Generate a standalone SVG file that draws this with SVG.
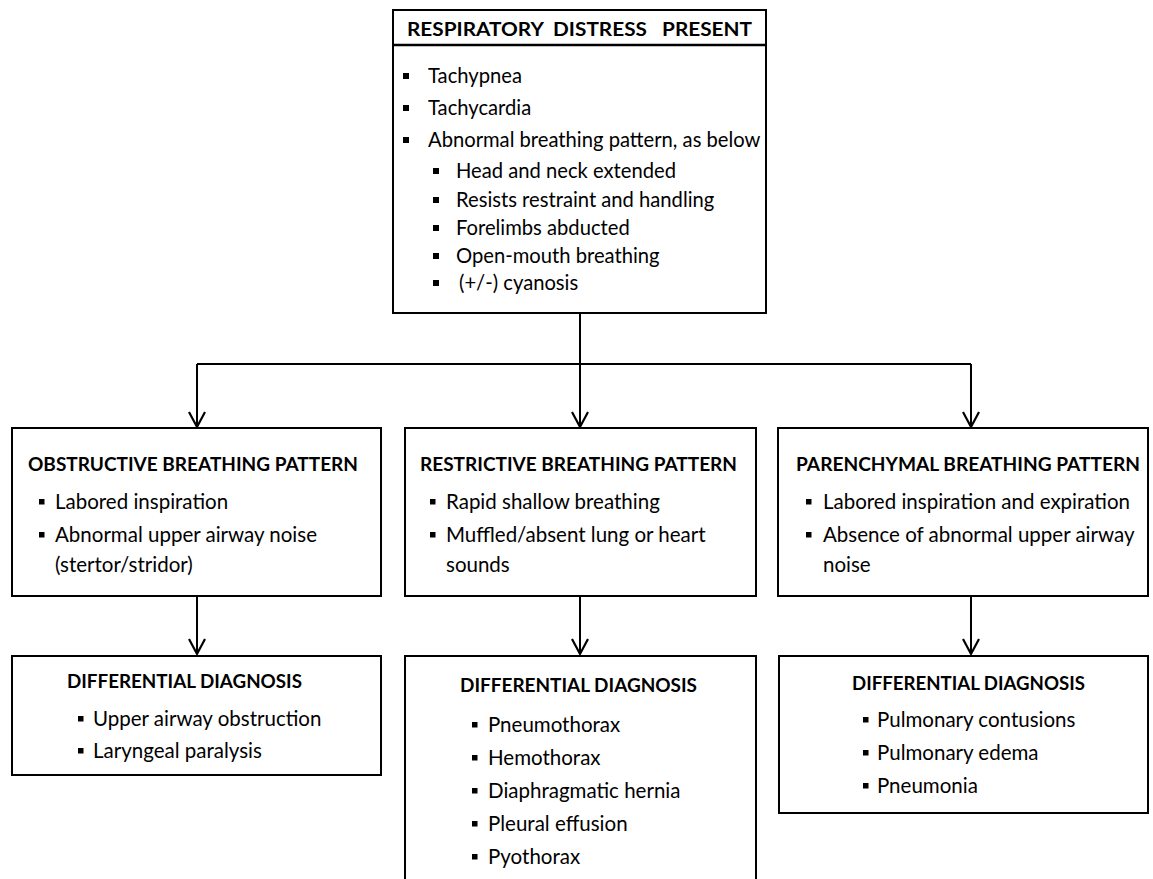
<svg xmlns="http://www.w3.org/2000/svg" width="1153" height="879" viewBox="0 0 1153 879">
  <style>
    .box { fill: #ffffff; stroke: #000000; stroke-width: 2; }
    .rule { stroke: #000000; stroke-width: 2.5; }
    .title { font-family: Lato, "Liberation Sans", sans-serif; font-weight: bold; font-size: 19.2px; fill: #000000; white-space: pre; }
    .item { font-family: Lato, "Liberation Sans", sans-serif; font-size: 20.5px; fill: #000000; }
    .top-item { font-size: 20.2px; }
    .bul { fill: #000000; }
    .link { fill: none; stroke: #000000; stroke-width: 2; }
  </style>
  <defs>
    <marker id="chevron" markerUnits="userSpaceOnUse" orient="auto" refX="0" refY="0" markerWidth="20" markerHeight="20" overflow="visible">
      <path d="M-15,-8 L0,0 L-15,8" fill="none" stroke="#000000" stroke-width="2.2"/>
    </marker>
  </defs>
  <rect width="1153" height="879" fill="#ffffff"/>

  <!-- connectors -->
  <g id="connectors">
    <path class="link" d="M580,313 V364"/>
    <path class="link" d="M197,364 H971"/>
    <path class="link" d="M197,364 V427" marker-end="url(#chevron)"/>
    <path class="link" d="M580,364 V427" marker-end="url(#chevron)"/>
    <path class="link" d="M971,364 V427" marker-end="url(#chevron)"/>
    <path class="link" d="M197,596 V654" marker-end="url(#chevron)"/>
    <path class="link" d="M580,596 V654" marker-end="url(#chevron)"/>
    <path class="link" d="M971,596 V654" marker-end="url(#chevron)"/>
  </g>

  <!-- top: respiratory distress -->
  <g id="node-distress">
    <rect class="box" x="393" y="10" width="373" height="303"/>
    <line class="rule" x1="393" y1="45" x2="766" y2="45"/>
    <text class="title" x="407" y="36" textLength="345" lengthAdjust="spacingAndGlyphs">RESPIRATORY  DISTRESS   PRESENT</text>
    <rect class="bul" x="403" y="73" width="6" height="6"/>
    <text class="item top-item" x="428" y="83">Tachypnea</text>
    <rect class="bul" x="403" y="105" width="6" height="6"/>
    <text class="item top-item" x="428" y="115">Tachycardia</text>
    <rect class="bul" x="403" y="137" width="6" height="6"/>
    <text class="item top-item" x="428" y="147">Abnormal breathing pattern, as below</text>
    <rect class="bul" x="433" y="168" width="6" height="6"/>
    <text class="item top-item" x="456" y="178">Head and neck extended</text>
    <rect class="bul" x="433" y="197" width="6" height="6"/>
    <text class="item top-item" x="456" y="207">Resists restraint and handling</text>
    <rect class="bul" x="433" y="225" width="6" height="6"/>
    <text class="item top-item" x="456" y="235">Forelimbs abducted</text>
    <rect class="bul" x="433" y="253" width="6" height="6"/>
    <text class="item top-item" x="456" y="263">Open-mouth breathing</text>
    <rect class="bul" x="433" y="280" width="6" height="6"/>
    <text class="item top-item" x="459" y="290">(+/-) cyanosis</text>
  </g>

  <!-- breathing patterns -->
  <g id="node-obstructive">
    <rect class="box" x="12" y="428" width="369" height="168"/>
    <text class="title" x="28" y="471" textLength="330" lengthAdjust="spacingAndGlyphs">OBSTRUCTIVE BREATHING PATTERN</text>
    <rect class="bul" x="39" y="499" width="5.5" height="5.5"/>
    <text class="item" x="55" y="509">Labored inspiration</text>
    <rect class="bul" x="39" y="532" width="5.5" height="5.5"/>
    <text class="item" x="55" y="542">Abnormal upper airway noise</text>
    <text class="item" x="55" y="572">(stertor/stridor)</text>
  </g>

  <g id="node-restrictive">
    <rect class="box" x="405" y="428" width="351" height="168"/>
    <text class="title" x="420" y="471" textLength="317" lengthAdjust="spacingAndGlyphs">RESTRICTIVE BREATHING PATTERN</text>
    <rect class="bul" x="430" y="499" width="5.5" height="5.5"/>
    <text class="item" x="446" y="509">Rapid shallow breathing</text>
    <rect class="bul" x="430" y="532" width="5.5" height="5.5"/>
    <text class="item" x="446" y="542">Muffled/absent lung or heart</text>
    <text class="item" x="446" y="572">sounds</text>
  </g>

  <g id="node-parenchymal">
    <rect class="box" x="778" y="428" width="370" height="168"/>
    <text class="title" x="796" y="471" textLength="344" lengthAdjust="spacingAndGlyphs">PARENCHYMAL BREATHING PATTERN</text>
    <rect class="bul" x="806" y="499" width="5.5" height="5.5"/>
    <text class="item" x="823" y="509">Labored inspiration and expiration</text>
    <rect class="bul" x="806" y="532" width="5.5" height="5.5"/>
    <text class="item" x="823" y="542">Absence of abnormal upper airway</text>
    <text class="item" x="823" y="572">noise</text>
  </g>

  <!-- differential diagnoses -->
  <g id="node-ddx-obstructive">
    <rect class="box" x="12" y="656" width="369" height="119"/>
    <text class="title" x="67" y="688" textLength="235" lengthAdjust="spacingAndGlyphs">DIFFERENTIAL DIAGNOSIS</text>
    <rect class="bul" x="78" y="716" width="5.5" height="5.5"/>
    <text class="item" x="93" y="726">Upper airway obstruction</text>
    <rect class="bul" x="78" y="748" width="5.5" height="5.5"/>
    <text class="item" x="93" y="758">Laryngeal paralysis</text>
  </g>

  <g id="node-ddx-restrictive">
    <rect class="box" x="405" y="656" width="351" height="240"/>
    <text class="title" x="460" y="692" textLength="237" lengthAdjust="spacingAndGlyphs">DIFFERENTIAL DIAGNOSIS</text>
    <rect class="bul" x="472" y="722" width="5.5" height="5.5"/>
    <text class="item" x="488" y="732">Pneumothorax</text>
    <rect class="bul" x="472" y="755" width="5.5" height="5.5"/>
    <text class="item" x="488" y="765">Hemothorax</text>
    <rect class="bul" x="472" y="788" width="5.5" height="5.5"/>
    <text class="item" x="488" y="798">Diaphragmatic hernia</text>
    <rect class="bul" x="472" y="821" width="5.5" height="5.5"/>
    <text class="item" x="488" y="831">Pleural effusion</text>
    <rect class="bul" x="472" y="854" width="5.5" height="5.5"/>
    <text class="item" x="488" y="864">Pyothorax</text>
  </g>

  <g id="node-ddx-parenchymal">
    <rect class="box" x="779" y="656" width="369" height="157"/>
    <text class="title" x="852" y="690" textLength="233" lengthAdjust="spacingAndGlyphs">DIFFERENTIAL DIAGNOSIS</text>
    <rect class="bul" x="863" y="717" width="5.5" height="5.5"/>
    <text class="item" x="877" y="727">Pulmonary contusions</text>
    <rect class="bul" x="863" y="750" width="5.5" height="5.5"/>
    <text class="item" x="877" y="760">Pulmonary edema</text>
    <rect class="bul" x="863" y="783" width="5.5" height="5.5"/>
    <text class="item" x="877" y="793">Pneumonia</text>
  </g>
</svg>
